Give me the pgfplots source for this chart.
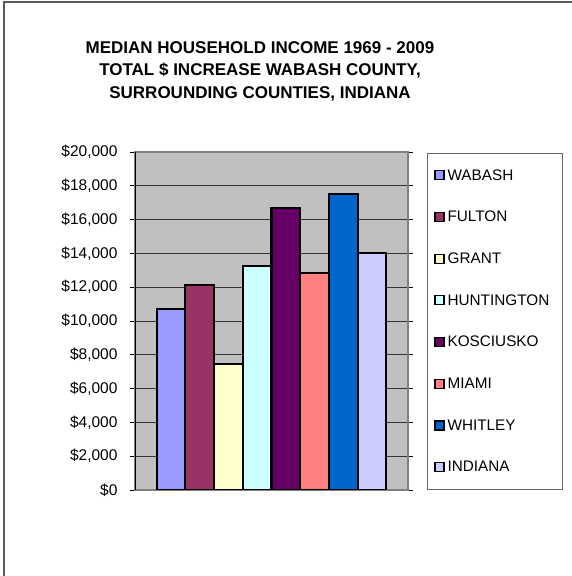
\documentclass[border=0pt]{standalone}
\usepackage{pgfplots}
\pgfplotsset{compat=1.18}
\usepackage{fontspec}
\setmainfont{Liberation Sans}

\definecolor{cWabash}{HTML}{9999FF}
\definecolor{cFulton}{HTML}{993366}
\definecolor{cGrant}{HTML}{FFFFCC}
\definecolor{cHunt}{HTML}{CCFFFF}
\definecolor{cKos}{HTML}{660066}
\definecolor{cMiami}{HTML}{FF8080}
\definecolor{cWhit}{HTML}{0066CC}
\definecolor{cInd}{HTML}{CCCCFF}
\definecolor{plotbg}{HTML}{C0C0C0}

\tikzset{bar/.style={draw=black, line width=2.2pt, fill=#1}}

\begin{document}
\begin{tikzpicture}
\useasboundingbox (0pt,0pt) rectangle (572pt,576pt);
% chart frame (only left and top edges visible)
\draw[gray!70!black, line width=1.2pt] (4pt,0pt) -- (4pt,574pt) -- (572pt,574pt);

\node[align=center, font=\fontsize{17}{22.5}\selectfont\bfseries] at (260pt,505pt)
  {MEDIAN HOUSEHOLD INCOME 1969 - 2009\\TOTAL \$ INCREASE WABASH COUNTY,\\SURROUNDING COUNTIES, INDIANA};

\begin{axis}[
  at={(135pt,86pt)}, anchor=south west,
  width=273pt, height=338pt, scale only axis=true,
  ybar, bar width=1, bar shift=0pt,
  xmin=-1.256, xmax=8.256,
  ymin=0, ymax=20000,
  xtick=\empty,
  ytick={0,2000,...,20000},
  yticklabel={\$\pgfmathprintnumber{\tick}},
  /pgf/number format/.cd, fixed, 1000 sep={,}, assume math mode=true,
  /pgfplots/.cd,
  scaled y ticks=false,
  tick align=outside, major tick length=5pt,
  tick style={black, line width=0.6pt},
  ymajorgrids=true,
  grid style={black!80, line width=0.6pt},
  axis line style={gray, line width=1.5pt},
  axis background/.style={fill=plotbg},
  ticklabel style={font=\fontsize{15.5}{18}\selectfont},
  yticklabel style={xshift=-9pt},
  legend image code/.code={\draw[#1, draw=black, line width=1.2pt] (0pt,-4.5pt) rectangle (9pt,4.5pt);},
  legend cell align=left,
  legend style={at={(1.0696,0.997)}, anchor=north west,
    draw=gray!80!black, line width=0.8pt, fill=white,
    font=\fontsize{15.3}{18}\selectfont,
    inner xsep=7pt, inner ysep=1pt,
    nodes={inner sep=0pt, text height=25.6pt, text depth=16.1pt},
    /tikz/every even column/.append style={text width=108pt, column sep=0pt},
    /tikz/every odd column/.append style={column sep=3pt}},
]
\addplot[bar=cWabash] coordinates {(0,10710)};
\addlegendentry{WABASH}
\addplot[bar=cFulton] coordinates {(1,12130)};
\addlegendentry{FULTON}
\addplot[bar=cGrant] coordinates {(2,7440)};
\addlegendentry{GRANT}
\addplot[bar=cHunt] coordinates {(3,13250)};
\addlegendentry{HUNTINGTON}
\addplot[bar=cKos] coordinates {(4,16670)};
\addlegendentry{KOSCIUSKO}
\addplot[bar=cMiami] coordinates {(5,12820)};
\addlegendentry{MIAMI}
\addplot[bar=cWhit] coordinates {(6,17510)};
\addlegendentry{WHITLEY}
\addplot[bar=cInd] coordinates {(7,14040)};
\addlegendentry{INDIANA}
\draw[black, line width=0.8pt] (rel axis cs:0,0) -- (rel axis cs:0,1);
\end{axis}
\end{tikzpicture}
\end{document}
